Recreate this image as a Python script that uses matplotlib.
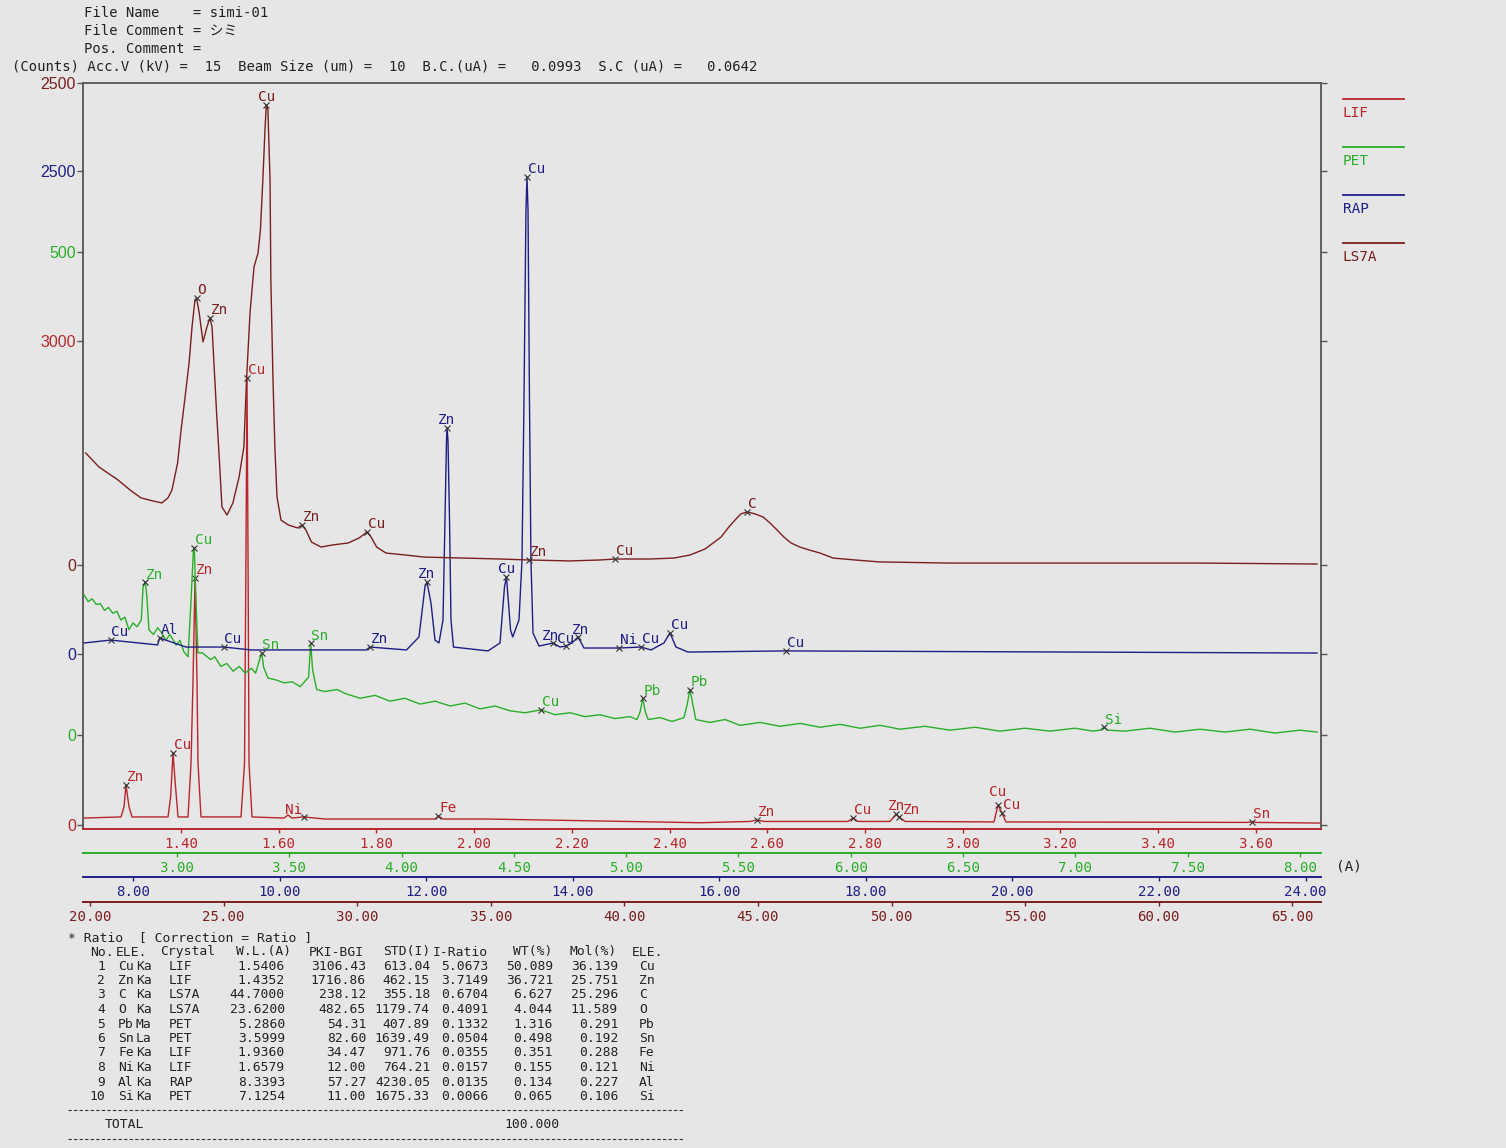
import matplotlib
matplotlib.use('Agg')
import matplotlib.pyplot as plt
from matplotlib.lines import Line2D

W, H = 1506, 1148
BG = '#e6e6e6'
MONO = ['DejaVu Sans Mono', 'Noto Sans CJK JP']
SANS = ['Liberation Sans', 'DejaVu Sans']

C_LIF = '#b8262b'
C_PET = '#2aae2a'
C_RAP = '#1e1e86'
C_LS7A = '#7a1e1e'
FRAME = '#555555'

# ---------------- spectra (wavelength in A, counts) ----------------
lif_wl = [1.2015, 1.2772, 1.2833, 1.2874, 1.2936, 1.2997, 1.3734, 1.3787, 1.3836, 1.3877,
          1.3939, 1.4143, 1.4205, 1.4246, 1.4287, 1.4327, 1.4348, 1.4409, 1.5228, 1.5300,
          1.5330, 1.5351, 1.5371, 1.5392, 1.5453, 1.6108, 1.6190, 1.6272, 1.6511, 1.6947,
          1.9199, 1.9268, 1.9362, 2.0283, 2.4622, 2.5646, 2.5789, 2.5933, 2.7650, 2.7753,
          2.7856, 2.8510, 2.8634, 2.8695, 2.8820, 3.0639, 3.0721, 3.0803, 3.0885, 3.5820,
          3.5920, 3.6020, 3.7311]
lif_ct = [43, 50, 112, 248, 112, 50, 50, 174, 446, 279,
          50, 50, 384, 899, 1531, 899, 384, 50, 50, 384,
          1704, 2771, 1704, 384, 50, 43, 62, 43, 50, 37,
          37, 56, 37, 37, 14, 22, 31, 22, 22, 43,
          22, 22, 66, 50, 22, 19, 124, 74, 19, 16,
          20, 16, 12]

pet_wl = [2.586, 2.605, 2.622, 2.641, 2.659, 2.677, 2.695, 2.714, 2.732, 2.750,
          2.768, 2.786, 2.804, 2.822, 2.841, 2.849, 2.859, 2.866, 2.875, 2.895,
          2.914, 2.931, 2.950, 2.968, 2.996, 3.013, 3.031, 3.049, 3.062, 3.073,
          3.077, 3.085, 3.093, 3.113, 3.150, 3.168, 3.195, 3.222, 3.250, 3.277,
          3.304, 3.331, 3.350, 3.368, 3.377, 3.386, 3.405, 3.440, 3.477, 3.513,
          3.549, 3.586, 3.595, 3.604, 3.622, 3.658, 3.713, 3.748, 3.815, 3.882,
          3.948, 4.015, 4.082, 4.149, 4.216, 4.282, 4.349, 4.416, 4.483, 4.549,
          4.621, 4.683, 4.750, 4.817, 4.883, 4.950, 5.017, 5.048, 5.062, 5.074,
          5.085, 5.098, 5.150, 5.204, 5.257, 5.271, 5.284, 5.297, 5.310, 5.373,
          5.440, 5.507, 5.596, 5.685, 5.774, 5.863, 5.952, 6.041, 6.130, 6.219,
          6.330, 6.442, 6.553, 6.664, 6.776, 6.887, 6.998, 7.078, 7.109, 7.127,
          7.145, 7.221, 7.332, 7.443, 7.555, 7.666, 7.777, 7.889, 8.000, 8.076]
pet_ct = [145, 138, 141, 135, 136, 129, 132, 126, 128, 119,
          122, 109, 116, 112, 119, 153, 158, 143, 109, 104,
          111, 106, 98, 104, 93, 98, 86, 81, 137, 191,
          194, 137, 85, 85, 78, 81, 71, 74, 66, 71,
          64, 69, 64, 78, 85, 70, 59, 57, 54, 55,
          50, 60, 95, 67, 47, 45, 47, 43, 38, 41,
          35, 38, 32, 35, 30, 33, 27, 30, 25, 23,
          26, 21, 23, 19, 21, 17, 19, 16, 24, 38,
          24, 16, 18, 14, 18, 31, 47, 31, 16, 13,
          16, 10, 13, 9, 12, 8, 11, 7, 10, 6,
          9, 5, 8, 4, 7, 4, 7, 4, 5, 8,
          5, 4, 7, 3, 6, 3, 6, 2, 5, 3]

rap_wl = [7.331, 7.694, 8.336, 8.363, 8.723, 9.238, 9.610, 11.18, 11.234, 11.732,
          11.902, 11.984, 12.011, 12.066, 12.121, 12.175, 12.230, 12.257, 12.278, 12.284,
          12.298, 12.319, 12.339, 12.373, 12.844, 13.008, 13.069, 13.096, 13.152, 13.181,
          13.267, 13.308, 13.335, 13.362, 13.376, 13.390, 13.410, 13.430, 13.458, 13.540,
          13.731, 13.826, 13.908, 13.990, 14.072, 14.154, 14.631, 14.931, 15.068, 15.245,
          15.327, 15.409, 15.573, 16.910, 24.155]
rap_ct = [57, 72, 47, 83, 36, 36, 21, 21, 36, 21,
          88, 347, 373, 264, 72, 57, 176, 694, 1108, 1170,
          1108, 694, 176, 36, 16, 57, 347, 399, 124, 88,
          176, 487, 1315, 2298, 2469, 2298, 1315, 487, 109, 41,
          57, 36, 41, 57, 88, 31, 31, 36, 21, 57,
          109, 36, 10, 16, 5]

ls7a_wl = [19.84, 20.34, 21.05, 21.50, 21.91, 22.36, 22.69, 22.92, 23.07, 23.28,
           23.41, 23.56, 23.71, 23.82, 23.93, 23.99, 24.09, 24.23, 24.38, 24.49,
           24.57, 24.64, 24.74, 24.85, 24.94, 25.13, 25.35, 25.58, 25.76, 25.86,
           25.99, 26.14, 26.29, 26.38, 26.47, 26.55, 26.60, 26.66, 26.74, 26.77,
           26.85, 26.92, 27.00, 27.15, 27.43, 27.78, 27.93, 28.08, 28.29, 28.65,
           29.08, 29.66, 30.07, 30.37, 30.52, 30.73, 31.08, 31.79, 32.50, 33.96,
           35.34, 36.43, 37.96, 39.09, 39.65, 40.96, 41.86, 42.46, 43.02, 43.62,
           43.88, 44.14, 44.36, 44.59, 44.89, 45.19, 45.45, 45.71, 45.97, 46.24,
           46.57, 46.91, 47.32, 47.81, 48.63, 49.53, 52.15, 56.49, 61.54, 65.92]
ls7a_ct = [581, 508, 441, 389, 348, 332, 322, 348, 389, 529,
           700, 871, 1048, 1235, 1375, 1385, 1307, 1157, 1235, 1281,
           1235, 1048, 788, 529, 301, 259, 322, 456, 612, 960,
           1307, 1546, 1618, 1738, 1997, 2256, 2386, 2360, 1997, 1478,
           960, 612, 353, 233, 207, 192, 207, 182, 119, 93,
           104, 114, 140, 171, 145, 93, 62, 52, 41, 36,
           31, 26, 21, 26, 31, 31, 36, 52, 83, 145,
           192, 233, 265, 275, 265, 249, 218, 182, 145, 114,
           93, 78, 62, 36, 26, 16, 10, 10, 10, 5]

# ---------------- peak identifications ----------------
lif_pk = ['Zn', 'Cu', 'Zn', 'Cu', 'Ni', 'Fe', 'Zn', 'Cu', 'Zn', 'Zn', 'Cu', 'Cu', 'Sn']
lif_pk_wl = [1.2874, 1.3836, 1.4287, 1.5351, 1.6511, 1.9268, 2.5789, 2.7753, 2.8634, 2.8695, 3.0721, 3.0803, 3.5920]
lif_pk_ct = [248, 446, 1531, 2771, 50, 56, 31, 43, 66, 50, 124, 74, 20]

pet_pk = ['Zn', 'Cu', 'Sn', 'Sn', 'Cu', 'Pb', 'Pb', 'Si']
pet_pk_wl = [2.859, 3.077, 3.377, 3.595, 4.621, 5.074, 5.284, 7.127]
pet_pk_ct = [158, 194, 85, 95, 26, 38, 47, 8]

rap_pk = ['Cu', 'Al', 'Cu', 'Zn', 'Zn', 'Zn', 'Cu', 'Cu', 'Zn', 'Cu', 'Zn', 'Ni', 'Cu', 'Cu', 'Cu']
rap_pk_wl = [7.694, 8.363, 9.238, 11.234, 12.011, 12.284, 13.096, 13.376, 13.731, 13.908, 14.072, 14.631, 14.931, 15.327, 16.910]
rap_pk_ct = [72, 83, 36, 36, 373, 1170, 399, 2469, 57, 41, 88, 31, 36, 109, 16]

ls7a_pk = ['O', 'Zn', 'Cu', 'Zn', 'Cu', 'Zn', 'Cu', 'C']
ls7a_pk_wl = [23.99, 24.49, 26.60, 27.93, 30.37, 36.43, 39.65, 44.59]
ls7a_pk_ct = [1385, 1281, 2386, 207, 171, 26, 31, 275]

# axis ticks
lif_xt = [1.40, 1.60, 1.80, 2.00, 2.20, 2.40, 2.60, 2.80, 3.00, 3.20, 3.40, 3.60]
pet_xt = [3.00, 3.50, 4.00, 4.50, 5.00, 5.50, 6.00, 6.50, 7.00, 7.50, 8.00]
rap_xt = [8.00, 10.00, 12.00, 14.00, 16.00, 18.00, 20.00, 22.00, 24.00]
ls7a_xt = [20.00, 25.00, 30.00, 35.00, 40.00, 45.00, 50.00, 55.00, 60.00, 65.00]
lif_yt = [0, 3000]
pet_yt = [0, 500]
rap_yt = [0, 2500]
ls7a_yt = [0, 2500]

# ---------------- quantitative table ----------------
tab_no = [1, 2, 3, 4, 5, 6, 7, 8, 9, 10]
tab_ele = ['Cu', 'Zn', 'C', 'O', 'Pb', 'Sn', 'Fe', 'Ni', 'Al', 'Si']
tab_line = ['Ka', 'Ka', 'Ka', 'Ka', 'Ma', 'La', 'Ka', 'Ka', 'Ka', 'Ka']
tab_xtal = ['LIF', 'LIF', 'LS7A', 'LS7A', 'PET', 'PET', 'LIF', 'LIF', 'RAP', 'PET']
tab_wl = [1.5406, 1.4352, 44.7000, 23.6200, 5.2860, 3.5999, 1.9360, 1.6579, 8.3393, 7.1254]
tab_pki = [3106.43, 1716.86, 238.12, 482.65, 54.31, 82.60, 34.47, 12.00, 57.27, 11.00]
tab_std = [613.04, 462.15, 355.18, 1179.74, 407.89, 1639.49, 971.76, 764.21, 4230.05, 1675.33]
tab_irat = [5.0673, 3.7149, 0.6704, 0.4091, 0.1332, 0.0504, 0.0355, 0.0157, 0.0135, 0.0066]
tab_wt = [50.089, 36.721, 6.627, 4.044, 1.316, 0.498, 0.351, 0.155, 0.134, 0.065]
tab_mol = [36.139, 25.751, 25.296, 11.589, 0.291, 0.192, 0.288, 0.121, 0.227, 0.106]
tab_total = 100.000


def fx(x):
    return x / W


def fy(y):
    return 1 - y / H


fig = plt.figure(figsize=(W / 100, H / 100), dpi=100, facecolor=BG)
rect = [fx(83), fy(829), (1321 - 83) / W, (829 - 83) / H]

# offset of each x axis line below the frame, in pixels
specs = [
    ('LIF', lif_wl, lif_ct, (1.1994, 3.7332), (-24.8, 4599), lif_xt, lif_yt, C_LIF, 0,
     lif_pk, lif_pk_wl, lif_pk_ct),
    ('PET', pet_wl, pet_ct, (2.5815, 8.0935), (-97.3, 674.8), pet_xt, pet_yt, C_PET, 24,
     pet_pk, pet_pk_wl, pet_pk_ct),
    ('RAP', rap_wl, rap_ct, (7.318, 24.21), (-905.8, 2955.5), rap_xt, rap_yt, C_RAP, 48,
     rap_pk, rap_pk_wl, rap_pk_ct),
    ('LS7A', ls7a_wl, ls7a_ct, (19.74, 66.07), (-1369.4, 2500), ls7a_xt, ls7a_yt, C_LS7A, 73,
     ls7a_pk, ls7a_pk_wl, ls7a_pk_ct),
]
# peak label placement exceptions: (crystal, index) -> (ha, dx, dy) in points
label_pos = {('LIF', 4): ('right', -1, 0), ('LIF', 8): ('center', 0, 1),
             ('LIF', 9): ('left', 3, 0), ('LIF', 10): ('center', 0, 4),
             ('LS7A', 2): ('center', 0, 1),
             ('RAP', 4): ('center', 0, 1), ('RAP', 5): ('center', 0, 1), ('RAP', 6): ('center', 0, 1),
             ('RAP', 8): ('center', -2, 0), ('RAP', 9): ('center', 0, 0), ('RAP', 10): ('center', 2, 0)}

for i, (name, wl, ct, xl, yl, xt, yt, col, off, pk, pkw, pkc) in enumerate(specs):
    ax = fig.add_axes(rect, label=name)
    ax.set_xlim(xl)
    ax.set_ylim(yl)
    main = (i == 0)
    ax.patch.set_visible(main)
    ax.set_facecolor(BG)
    for s in ['top', 'left', 'right']:
        ax.spines[s].set_visible(main)
        ax.spines[s].set_color(FRAME)
        ax.spines[s].set_linewidth(1.3)
    ax.spines['bottom'].set_color(col)
    ax.spines['bottom'].set_linewidth(1.4)
    ax.spines['bottom'].set_position(('outward', off * 0.72))

    ax.set_xticks(xt)
    ax.set_xticklabels([f'{t:.2f}' for t in xt], family=MONO, fontsize=10.2)
    ax.tick_params(axis='x', colors=col, length=3, width=1, pad=2.5, direction='out')
    ax.set_yticks(yt)
    ax.set_yticklabels([str(v) for v in yt], family=SANS, fontsize=11.5)
    ax.tick_params(axis='y', left=True, right=True, labelleft=True, labelright=False,
                   length=4, width=1, color=FRAME, labelcolor=col, direction='out', pad=1)

    ax.plot(wl, ct, color=col, lw=1.0, zorder=3)
    ax.plot(pkw, pkc, 'x', color='#333333', ms=4, mew=0.8, zorder=4)
    for j, (n, w, c) in enumerate(zip(pk, pkw, pkc)):
        ha, dx, dy = label_pos.get((name, j), ('left', 0.5, 0.5))
        ax.annotate(n, (w, c), xytext=(dx, dy), textcoords='offset points',
                    ha=ha, va='bottom', color=col, fontsize=10.4, family=MONO, zorder=5)

# legend on the right
for k, (name, col) in enumerate([('LIF', C_LIF), ('PET', C_PET), ('RAP', C_RAP), ('LS7A', C_LS7A)]):
    y = 99 + 48 * k
    fig.add_artist(Line2D([fx(1343), fx(1404)], [fy(y), fy(y)], transform=fig.transFigure,
                          color=col, lw=1.3))
    fig.text(fx(1343), fy(y + 14), name, color=col, fontsize=10.4, family=MONO, va='center')

fig.text(fx(1336), fy(867), '(A)', fontsize=10.4, family=MONO, va='center', color='#222222')

# header
hdr_kw = dict(fontsize=10, family=MONO, va='center', color='#222222')
fig.text(fx(84), fy(13), 'File Name    = simi-01', **hdr_kw)
fig.text(fx(84), fy(31), 'File Comment = シミ', **hdr_kw)
fig.text(fx(84), fy(49), 'Pos. Comment =', **hdr_kw)
fig.text(fx(12), fy(67), '(Counts) Acc.V (kV) =  15  Beam Size (um) =  10  '
         'B.C.(uA) =   0.0993  S.C (uA) =   0.0642', **hdr_kw)

# table
tk = dict(fontsize=9.4, family=MONO, va='center', color='#222222')
fig.text(fx(68), fy(938), '* Ratio  [ Correction = Ratio ]', **tk)
hy = 952
fig.text(fx(90), fy(hy), 'No.', **tk)
fig.text(fx(116), fy(hy), 'ELE.', **tk)
fig.text(fx(160), fy(hy), 'Crystal', **tk)
fig.text(fx(291), fy(hy), 'W.L.(A)', ha='right', **tk)
fig.text(fx(364), fy(hy), 'PKI-BGI', ha='right', **tk)
fig.text(fx(430), fy(hy), 'STD(I)', ha='right', **tk)
fig.text(fx(488), fy(hy), 'I-Ratio', ha='right', **tk)
fig.text(fx(552), fy(hy), 'WT(%)', ha='right', **tk)
fig.text(fx(617), fy(hy), 'Mol(%)', ha='right', **tk)
fig.text(fx(632), fy(hy), 'ELE.', **tk)
for r in range(len(tab_no)):
    y = 966 + 14.5 * r
    fig.text(fx(105), fy(y), str(tab_no[r]), ha='right', **tk)
    fig.text(fx(118), fy(y), tab_ele[r], **tk)
    fig.text(fx(136), fy(y), tab_line[r], **tk)
    fig.text(fx(169), fy(y), tab_xtal[r], **tk)
    fig.text(fx(285), fy(y), f'{tab_wl[r]:.4f}', ha='right', **tk)
    fig.text(fx(366), fy(y), f'{tab_pki[r]:.2f}', ha='right', **tk)
    fig.text(fx(430), fy(y), f'{tab_std[r]:.2f}', ha='right', **tk)
    fig.text(fx(488), fy(y), f'{tab_irat[r]:.4f}', ha='right', **tk)
    fig.text(fx(553), fy(y), f'{tab_wt[r]:.3f}', ha='right', **tk)
    fig.text(fx(618), fy(y), f'{tab_mol[r]:.3f}', ha='right', **tk)
    fig.text(fx(639), fy(y), tab_ele[r], **tk)
for y in (1110, 1139):
    fig.add_artist(Line2D([fx(68), fx(683)], [fy(y), fy(y)], transform=fig.transFigure,
                          color='#333333', lw=0.8, ls=(0, (3, 2))))
fig.text(fx(105), fy(1124), 'TOTAL', **tk)
fig.text(fx(560), fy(1124), f'{tab_total:.3f}', ha='right', **tk)

fig.savefig('out.png', dpi=100, facecolor=BG)
